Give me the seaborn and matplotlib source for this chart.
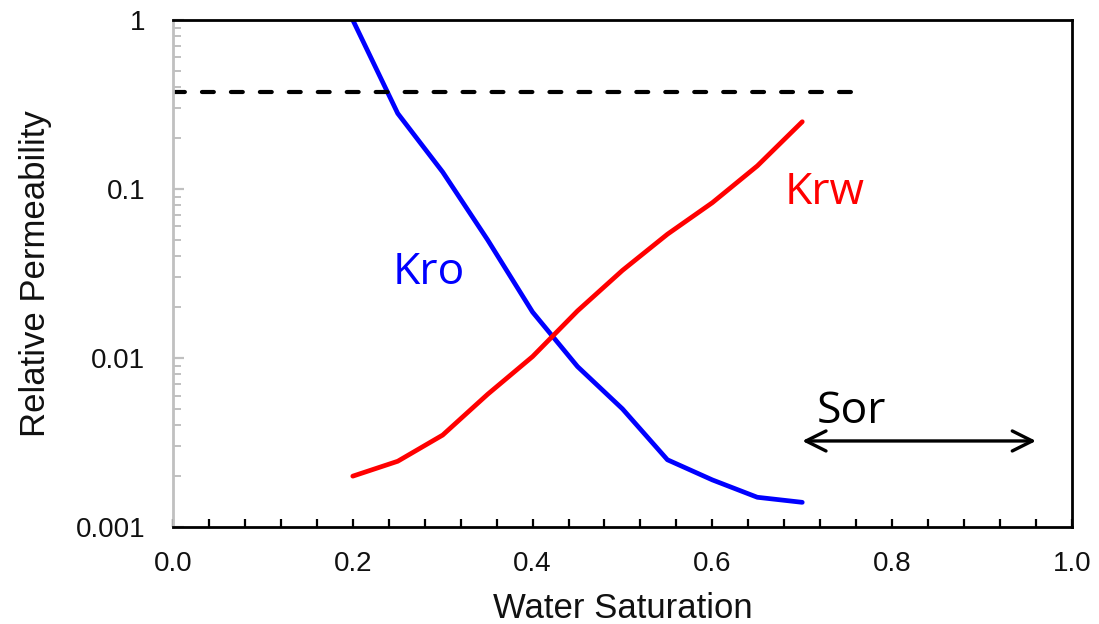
import matplotlib
matplotlib.use("Agg")
import matplotlib.pyplot as plt
from matplotlib.ticker import MultipleLocator, FixedLocator, NullFormatter, LogLocator
import numpy as np
import pandas as pd
import seaborn as sns

# Water saturation and relative permeability curves
sw = [0.20, 0.25, 0.30, 0.35, 0.40, 0.45, 0.50, 0.55, 0.60, 0.65, 0.70]
kro = [1.0, 0.28, 0.126, 0.050, 0.0187, 0.0089, 0.0050, 0.0025, 0.0019, 0.0015, 0.0014]
krw = [0.0020, 0.00245, 0.0035, 0.0061, 0.0102, 0.019, 0.033, 0.054, 0.083, 0.137, 0.25]

# Horizontal reference level and its extent
ref_level = 0.375
ref_x = [0.0, 0.76]

# Residual oil saturation span
sor_span = [0.70, 0.96]
sor_level = 0.00323

y_ticks = [0.001, 0.01, 0.1, 1]
y_ticklabels = ["0.001", "0.01", "0.1", "1"]
x_ticks = [0.0, 0.2, 0.4, 0.6, 0.8, 1.0]
x_ticklabels = ["0.0", "0.2", "0.4", "0.6", "0.8", "1.0"]

sns.set_style("white")
plt.rcParams["font.family"] = ["Liberation Sans", "DejaVu Sans"]
plt.rcParams["text.color"] = "#111111"
plt.rcParams["axes.labelcolor"] = "#111111"
plt.rcParams["xtick.labelcolor"] = "#111111"
plt.rcParams["ytick.labelcolor"] = "#111111"

df = pd.DataFrame({"Sw": sw + sw,
                   "kr": kro + krw,
                   "curve": ["Kro"] * len(sw) + ["Krw"] * len(sw)})

fig = plt.figure(figsize=(10.99, 6.24), dpi=100)
ax = fig.add_axes([0.1574, 0.1554, 0.9754 - 0.1574, 0.968 - 0.1554])

sns.lineplot(data=df, x="Sw", y="kr", hue="curve",
             palette={"Kro": "#0000ff", "Krw": "#ff0000"},
             linewidth=3.4, legend=False, ax=ax,
             solid_capstyle="round")

ax.plot(ref_x, [ref_level, ref_level], color="black", linewidth=3.0,
        linestyle=(0, (2.85, 4.1)), dash_capstyle="round", solid_capstyle="round")

ax.set_yscale("log")
ax.set_xlim(0, 1)
ax.set_ylim(0.001, 1)

ax.yaxis.set_major_locator(FixedLocator(y_ticks))
ax.set_yticklabels(y_ticklabels)
ax.yaxis.set_minor_locator(LogLocator(base=10, subs=np.arange(2, 10)))
ax.yaxis.set_minor_formatter(NullFormatter())
ax.xaxis.set_major_locator(FixedLocator(x_ticks))
ax.set_xticklabels(x_ticklabels)
ax.xaxis.set_minor_locator(MultipleLocator(0.04))

for side in ["top", "right", "bottom"]:
    ax.spines[side].set_color("black")
    ax.spines[side].set_linewidth(2.0)
ax.spines["left"].set_color("#c0c0c0")
ax.spines["left"].set_linewidth(2.0)

ax.tick_params(axis="x", which="both", direction="in", length=6, width=1.6,
               color="black", labelsize=20, pad=17, bottom=True,
               labelcolor="#111111")
ax.tick_params(axis="y", which="major", direction="in", length=8, width=1.6,
               color="#c0c0c0", labelsize=20, pad=20, left=True,
               labelcolor="#111111")
ax.tick_params(axis="y", which="minor", direction="in", length=6, width=1.4,
               color="#c0c0c0", left=True)

ax.set_xlabel("Water Saturation", fontsize=25, labelpad=11, color="#111111")
ax.set_ylabel("Relative Permeability", fontsize=25, labelpad=17, color="#111111")

label_font = ["Open Sans", "DejaVu Sans"]
ax.text(0.285, 0.0318, "Kro", color="#0000ff", fontsize=32,
        family=label_font, ha="center", va="center")
ax.text(0.725, 0.095, "Krw", color="#ff0000", fontsize=32,
        family=label_font, ha="center", va="center")
ax.text(0.755, 0.0048, "Sor", color="black", fontsize=32,
        family=label_font, ha="center", va="center")

ax.annotate("", xy=(sor_span[0], sor_level), xytext=(sor_span[1], sor_level),
            arrowprops=dict(arrowstyle="<->", color="black", lw=2.4,
                            mutation_scale=36, shrinkA=0, shrinkB=0))

fig.savefig("out.png", dpi=100)
